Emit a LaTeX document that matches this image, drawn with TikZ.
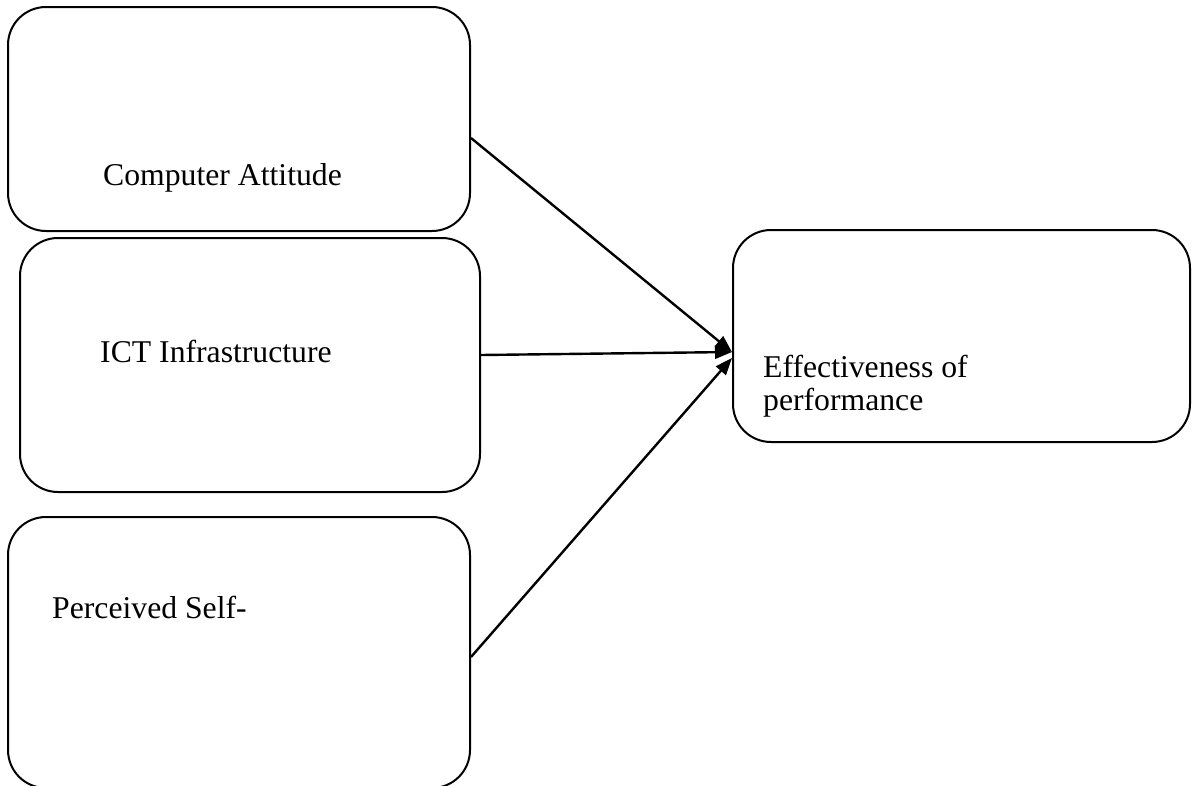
\documentclass[tikz,border=0pt]{standalone}
\usepackage{fontspec}
\setmainfont{Liberation Serif}
\usetikzlibrary{arrows.meta}
\begin{document}
\begin{tikzpicture}[x=1pt,y=-1pt,
  box/.style={draw=black, line width=2pt, rounded corners=38pt, inner sep=0pt, minimum width=#1},
  lbl/.style={anchor=base west, inner sep=0pt, font=\fontsize{31.7}{32.5}\selectfont, align=left},
  conn/.style={line width=2.4pt, -{Triangle[length=17pt,width=13pt]}}]
\useasboundingbox (0,0) rectangle (1192,785);
\node[box=462pt, minimum height=224pt] (b1) at (239,119) {};
\node[box=460pt, minimum height=254pt] (b2) at (250,365) {};
\node[box=462pt, minimum height=271pt] (b3) at (239,652.5) {};
\node[box=457pt, minimum height=212pt] (b4) at (961.5,336) {};
\node[lbl] (t1) at (103,185) {Computer Attitude};
\node[lbl] (t2) at (100,362) {ICT Infrastructure};
\node[lbl] (t3) at (52,618) {Perceived Self-};
\node[lbl, anchor=north west, text depth=0pt] (t4) at (763,355) {Effectiveness of\\performance};
\draw[conn] ([yshift=-19pt]b1.east) -- ([yshift=-16pt]b4.west);
\draw[conn] ([yshift=10pt]b2.east) -- ([yshift=-16pt]b4.west);
\draw[conn] ([yshift=-4.5pt]b3.east) -- ([yshift=-22pt]b4.west);
\end{tikzpicture}
\end{document}
